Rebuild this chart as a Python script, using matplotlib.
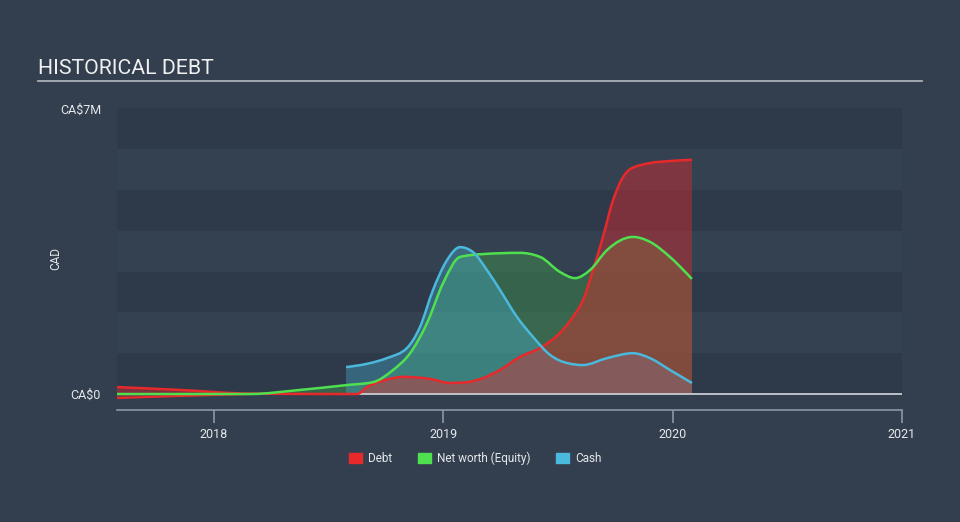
import numpy as np
import matplotlib
matplotlib.use('Agg')
import matplotlib.pyplot as plt
from matplotlib.patches import Patch, PathPatch
from matplotlib.path import Path

plt.rcParams['font.family'] = ['Roboto', 'DejaVu Sans']
plt.rcParams['hatch.linewidth'] = 0.75

## donnees (annee decimale, millions CAD)

debt_x = [2017.577, 2017.852, 2018.157, 2018.576, 2018.624, 2018.667, 2018.746, 2018.824,
          2018.942, 2019.029, 2019.103, 2019.173, 2019.247, 2019.334, 2019.422, 2019.509,
          2019.565, 2019.609, 2019.653, 2019.696, 2019.740, 2019.814, 2019.901, 2019.988, 2020.084]
debt_y = [0.17, 0.10, 0.01, 0.0, 0.0, 0.17, 0.34, 0.42,
          0.37, 0.27, 0.29, 0.39, 0.59, 0.91, 1.13, 1.50,
          1.89, 2.30, 3.04, 3.85, 4.75, 5.51, 5.66, 5.71, 5.74]
debt_low_x = [2017.577, 2017.852, 2018.157]
debt_low_y = [-0.10, -0.05, 0.0]

equity_x = [2017.577, 2018.157, 2018.375, 2018.580, 2018.693, 2018.781, 2018.855, 2018.929,
            2018.999, 2019.073, 2019.173, 2019.334, 2019.422, 2019.509, 2019.574, 2019.640,
            2019.714, 2019.827, 2019.901, 2019.988, 2020.084]
equity_y = [0.0, 0.0, 0.10, 0.22, 0.29, 0.59, 1.00, 1.74,
            2.72, 3.36, 3.43, 3.46, 3.36, 2.99, 2.84, 3.04,
            3.53, 3.85, 3.73, 3.36, 2.82]

cash_x = [2018.576, 2018.667, 2018.754, 2018.842, 2018.898, 2018.955, 2019.016, 2019.073,
          2019.129, 2019.190, 2019.247, 2019.321, 2019.391, 2019.465, 2019.539, 2019.609,
          2019.714, 2019.827, 2019.901, 2019.988, 2020.084]
cash_y = [0.66, 0.74, 0.88, 1.13, 1.64, 2.55, 3.28, 3.60,
          3.48, 3.04, 2.55, 1.89, 1.40, 0.96, 0.76, 0.71,
          0.88, 1.00, 0.88, 0.59, 0.27]

years = [2018, 2019, 2020, 2021]
labels = ['Debt', 'Net worth (Equity)', 'Cash']

BG = '#333f4e'
BAND_DARK = '#2e3a4a'
BAND_LIGHT = '#334150'
RED = '#e8292b'
GREEN = '#4fe04f'
BLUE = '#4ab9dc'
TXT = '#e6e8eb'


def courbe(xs, ys, ferme=False):
    # chemin de Bezier monotone (comme curveMonotoneX) passant par les points
    x = np.asarray(xs, float)
    y = np.asarray(ys, float)
    n = len(x)
    h = np.diff(x)
    s = np.diff(y) / h
    m = np.zeros(n)
    for i in range(1, n - 1):
        if s[i-1] * s[i] <= 0:
            m[i] = 0
        else:
            p = (s[i-1] * h[i] + s[i] * h[i-1]) / (h[i-1] + h[i])
            m[i] = (np.sign(s[i-1]) + np.sign(s[i])) * min(abs(s[i-1]), abs(s[i]), 0.5 * abs(p))
    m[0] = (3 * s[0] - m[1]) / 2 if n > 2 else s[0]
    m[-1] = (3 * s[-1] - m[-2]) / 2 if n > 2 else s[-1]
    verts = [(x[0], y[0])]
    codes = [Path.MOVETO]
    for i in range(n - 1):
        d = h[i] / 3
        verts += [(x[i] + d, y[i] + m[i] * d), (x[i+1] - d, y[i+1] - m[i+1] * d), (x[i+1], y[i+1])]
        codes += [Path.CURVE4] * 3
    if ferme:
        verts += [(x[-1], 0), (x[0], 0), (x[0], y[0])]
        codes += [Path.LINETO, Path.LINETO, Path.CLOSEPOLY]
    return Path(verts, codes)


fig = plt.figure(figsize=(9.6, 5.22), dpi=100)
fig.patch.set_facecolor(BG)

ax = fig.add_axes([117/960, (522-410)/522, (902-117)/960, (410-108)/522])
ax.set_facecolor(BG)
ax.set_xlim(2017.577, 2021.0)
ax.set_ylim(-0.392, 7.01)

# bandes horizontales
for k in range(7):
    ax.axhspan(k, k+1, color=BAND_DARK if k % 2 == 0 else BAND_LIGHT, lw=0, zorder=0)

# remplissages
ax.add_patch(PathPatch(courbe(equity_x, equity_y, True), facecolor=GREEN, alpha=0.25, lw=0, zorder=1))
ax.add_patch(PathPatch(courbe(cash_x, cash_y, True), facecolor=BLUE, alpha=0.35, lw=0, zorder=2))
for xs, ys in [(debt_x, debt_y), (debt_low_x, debt_low_y)]:
    ax.add_patch(PathPatch(courbe(xs, ys, True), facecolor='none', edgecolor=RED, alpha=0.42,
                           hatch='\\' * 26, lw=0, zorder=3))

# ligne du zero
ax.axhline(0, color='#c9ccd1', lw=1.3, zorder=4)

# courbes
ax.add_patch(PathPatch(courbe(debt_x, debt_y), facecolor='none', edgecolor=RED, lw=1.8, zorder=5))
ax.add_patch(PathPatch(courbe(debt_low_x, debt_low_y), facecolor='none', edgecolor=RED, lw=1.5, zorder=5))
ax.add_patch(PathPatch(courbe(equity_x, equity_y), facecolor='none', edgecolor=GREEN, lw=1.8, zorder=6))
ax.add_patch(PathPatch(courbe(cash_x, cash_y), facecolor='none', edgecolor=BLUE, lw=1.8, zorder=7))

# axes
for s in ['top', 'right', 'left']:
    ax.spines[s].set_visible(False)
ax.spines['bottom'].set_color('#8d97a5')
ax.spines['bottom'].set_linewidth(1.2)
ax.set_xticks(years)
ax.set_xticklabels([str(y) for y in years])
ax.tick_params(axis='x', colors='#8d97a5', length=9, width=1.2, labelcolor=TXT,
               labelsize=9, pad=4)
ax.set_yticks([0, 7])
ax.set_yticklabels(['CA$0', 'CA$7M'])
ax.tick_params(axis='y', length=0, labelcolor=TXT, labelsize=9, pad=11.5)
ax.set_ylabel('CAD', color=TXT, fontsize=8.5)
ax.yaxis.set_label_coords((62-117)/785, 0.5)

# titre
fig.text(38/960, (522-69)/522, 'HISTORICAL DEBT', color='#f0f0f0', fontsize=15.3,
         va='center', ha='left')
fig.add_artist(plt.Line2D([38/960, 922/960], [(522-81)/522]*2, color='#aab0b8', lw=1.3))

# legende
handles = [Patch(color=c) for c in [RED, GREEN, BLUE]]
fig.legend(handles, labels, loc='center', bbox_to_anchor=(475/960, (522-458)/522), ncol=3,
           frameon=False, fontsize=8.5, labelcolor=TXT, handlelength=1.1, handleheight=0.9,
           columnspacing=2.2, handletextpad=0.5)

fig.savefig('out.png', dpi=100, facecolor=BG)
